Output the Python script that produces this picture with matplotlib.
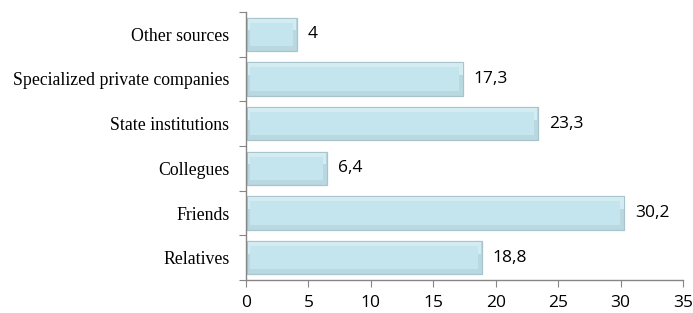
import matplotlib
matplotlib.use("Agg")
import matplotlib.pyplot as plt

categories = ["Relatives", "Friends", "Collegues", "State institutions",
              "Specialized private companies", "Other sources"]
values = [18.8, 30.2, 6.4, 23.3, 17.3, 4]
value_labels = ["18,8", "30,2", "6,4", "23,3", "17,3", "4"]
xticks = [0, 5, 10, 15, 20, 25, 30, 35]


def main():
    fig = plt.figure(figsize=(6.93, 3.13), dpi=100)
    ax = fig.add_axes([0.355, 0.1054, 0.6306, 0.8563])
    pos = list(range(len(categories)))

    # outer bar = bevel sides
    ax.barh(pos, values, height=0.74, left=0.1, color="#BAD8E0",
            edgecolor="#A8C4CC", linewidth=0.9, zorder=2)
    # light top bevel
    ax.barh([p + 0.22 for p in pos], [v - 0.1 for v in values], height=0.26, left=0.14,
            color="#D2ECF2", edgecolor="none", zorder=3)
    # inner face
    ax.barh(pos, [v - 0.6 for v in values], height=0.52, left=0.35,
            color="#C5E5EE", edgecolor="none", zorder=4)

    for p, v, lab in zip(pos, values, value_labels):
        ax.text(v + 0.95, p, lab, va="center", ha="left",
                fontsize=12.5, family="Open Sans", color="#000000")

    ax.set_xlim(0, 35)
    ax.set_ylim(-0.5, len(categories) - 0.5)
    ax.set_xticks(xticks)
    ax.set_xticklabels([str(t) for t in xticks], family="Open Sans", fontsize=12.5)
    ax.set_yticks([p - 0.5 for p in pos] + [len(categories) - 0.5])
    ax.set_yticklabels([])
    ax.set_yticks(pos, minor=True)
    ax.set_yticklabels(categories, minor=True, family="Liberation Serif", fontsize=12.8)
    ax.tick_params(axis="y", which="minor", length=0, pad=12)
    ax.tick_params(axis="y", which="major", length=5, color="#868686")
    ax.tick_params(axis="x", length=5, color="#868686", pad=6)

    for s in ["top", "right"]:
        ax.spines[s].set_visible(False)
    for s in ["left", "bottom"]:
        ax.spines[s].set_color("#868686")
        ax.spines[s].set_linewidth(1.0)

    fig.savefig("out.png", dpi=100)


if __name__ == '__main__':
    main()
